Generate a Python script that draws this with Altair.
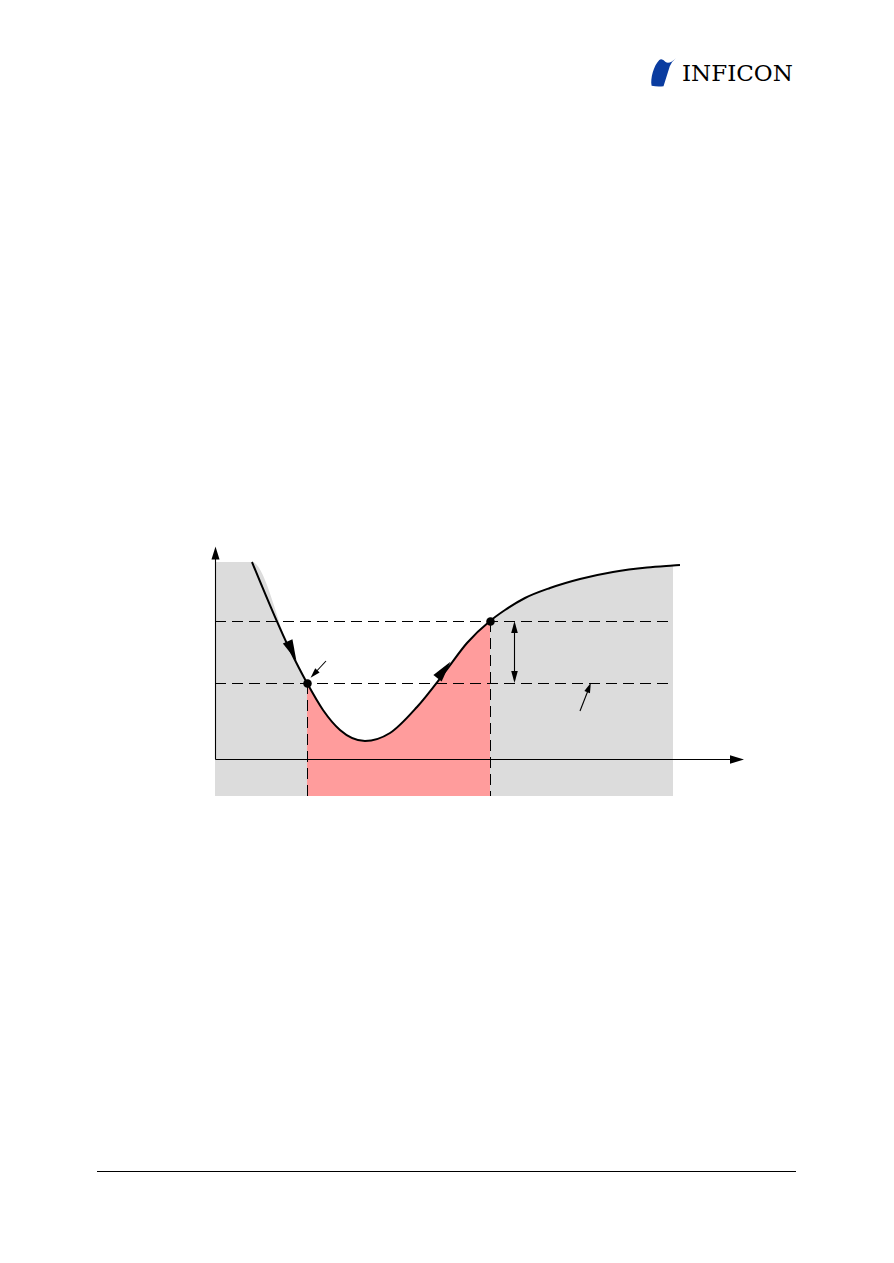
import altair as alt
import pandas as pd

# ---------------- data (page pixel units) ----------------
curve_x = [252, 290, 307, 323, 340, 365, 390, 417, 445, 467, 490, 505, 525, 550, 580, 613, 647, 673, 680]
curve_y = [562, 650, 683, 710, 730, 741, 733, 707, 672, 643, 621, 610, 598, 588, 579, 572, 567.5, 565.5, 565]

region_left_x0 = 215
region_top_left = 562
region_bottom = 796
split_left = 307
split_right = 490
region_right_end = 673

dash_x = [215, 215, 307.5, 490.5]
dash_x2 = [673, 673, 307.5, 490.5]
dash_y = [621.5, 683.5, 683, 621]
dash_y2 = [621.5, 683.5, 796, 796]

solid_x = [215.5, 215.5, 514.5, 326, 580, 97]
solid_x2 = [215.5, 736, 514.5, 313.5, 589, 796]
solid_y = [557, 759.5, 624, 661, 711, 1171.5]
solid_y2 = [759.5, 759.5, 680, 674.5, 688, 1171.5]

head_x = [292, 444, 215.5, 737, 514.5, 514.5, 314, 589]
head_y = [651, 670, 553, 759.5, 627, 677, 674, 687.5]
head_angle = [155.5, 38, 0, 90, 0, 180, 223, 21.5]
head_len = [21, 21, 13, 14, 12, 12, 10, 10]

dot_x = [307.5, 490.5]
dot_y = [683.5, 621.5]

logo_text = ["INFICON"]
logo_x = [682]
logo_y = [81]
mark_x = [663.5]
mark_y = [72.5]

# ---------------- tables ----------------
rows = []
for x, y in zip(curve_x, curve_y):
    if x <= split_left:
        rows.append({"x": x, "y": y, "region": "left"})
    if split_left <= x <= split_right:
        rows.append({"x": x, "y": y, "region": "mid"})
    if split_right <= x <= region_right_end:
        rows.append({"x": x, "y": y, "region": "right"})
rows.insert(0, {"x": region_left_x0, "y": region_top_left, "region": "left"})
area_df = pd.DataFrame(rows)
area_df["base"] = region_bottom

curve_df = pd.DataFrame({"x": curve_x, "y": curve_y})
dash_df = pd.DataFrame({"x": dash_x, "x2": dash_x2, "y": dash_y, "y2": dash_y2})
solid_df = pd.DataFrame({"x": solid_x, "x2": solid_x2, "y": solid_y, "y2": solid_y2})
head_df = pd.DataFrame({"x": head_x, "y": head_y, "angle": head_angle, "len": head_len})
dot_df = pd.DataFrame({"x": dot_x, "y": dot_y})
logo_df = pd.DataFrame({"x": logo_x, "y": logo_y, "t": logo_text})
mark_df = pd.DataFrame({"x": mark_x, "y": mark_y})

W, H = 878, 1240
xs = alt.Scale(domain=[8, 8 + W], nice=False, zero=False)
ys = alt.Scale(domain=[8, 8 + H], nice=False, zero=False, reverse=True)


def X(f="x"):
    return alt.X(f"{f}:Q", scale=xs, axis=None)


def Y(f="y"):
    return alt.Y(f"{f}:Q", scale=ys, axis=None, stack=None)


areas = alt.Chart(area_df).mark_area(interpolate="monotone", opacity=1).encode(
    x=X(), y=Y(), y2="base:Q",
    color=alt.Color("region:N", legend=None,
                    scale=alt.Scale(domain=["left", "mid", "right"],
                                    range=["#dcdcdc", "#ff9c9c", "#dcdcdc"])),
    detail="region:N",
)

dashes = alt.Chart(dash_df).mark_rule(color="black", strokeWidth=1, strokeDash=[11, 6]).encode(
    x=X(), x2="x2:Q", y=Y(), y2="y2:Q")

solids = alt.Chart(solid_df).mark_rule(color="black", strokeWidth=1.1).encode(
    x=X(), x2="x2:Q", y=Y(), y2="y2:Q")

curve = alt.Chart(curve_df).mark_line(interpolate="monotone", color="black", strokeWidth=2).encode(
    x=X(), y=Y())

half_width = {21: 0.5, 14: 0.6, 13: 0.62, 12: 0.55, 10: 0.6}
head_layers = []
for L in sorted(set(head_len)):
    w = half_width[L]
    head_layers.append(
        alt.Chart(head_df).transform_filter(alt.datum.len == L).mark_point(
            shape=f"M0,-1L{w},1L-{w},1Z", filled=True, color="black", opacity=1,
            strokeWidth=0, size=L * L
        ).encode(x=X(), y=Y(), angle=alt.Angle("angle:Q", scale=None))
    )

dots = alt.Chart(dot_df).mark_point(shape="circle", filled=True, color="black", size=72, opacity=1).encode(
    x=X(), y=Y())

logo = alt.Chart(logo_df).mark_text(
    align="left", baseline="alphabetic", font="DejaVu Serif", fontSize=23, color="black"
).encode(x=X(), y=Y(), text="t:N")

blue = alt.Chart(mark_df).mark_point(
    shape="M-0.85,0.95 C-0.95,0.4 -0.7,-0.5 -0.3,-0.9 Q-0.1,-1.05 0.15,-0.75 Q0.4,-0.55 0.88,-1.02 Q0.55,-0.75 0.45,-0.45 L0.0,0.98 Q-0.4,1.05 -0.85,0.95 Z",
    filled=True, color="#0a3ca0", opacity=1, size=784, strokeWidth=0
).encode(x=X(), y=Y())

chart = alt.layer(areas, dashes, solids, curve, *head_layers, dots, logo, blue).properties(
    width=W, height=H, padding=0, autosize="none"
).configure_view(strokeWidth=0)

chart.save("out.html", embed_options={"renderer": "svg", "actions": False})
